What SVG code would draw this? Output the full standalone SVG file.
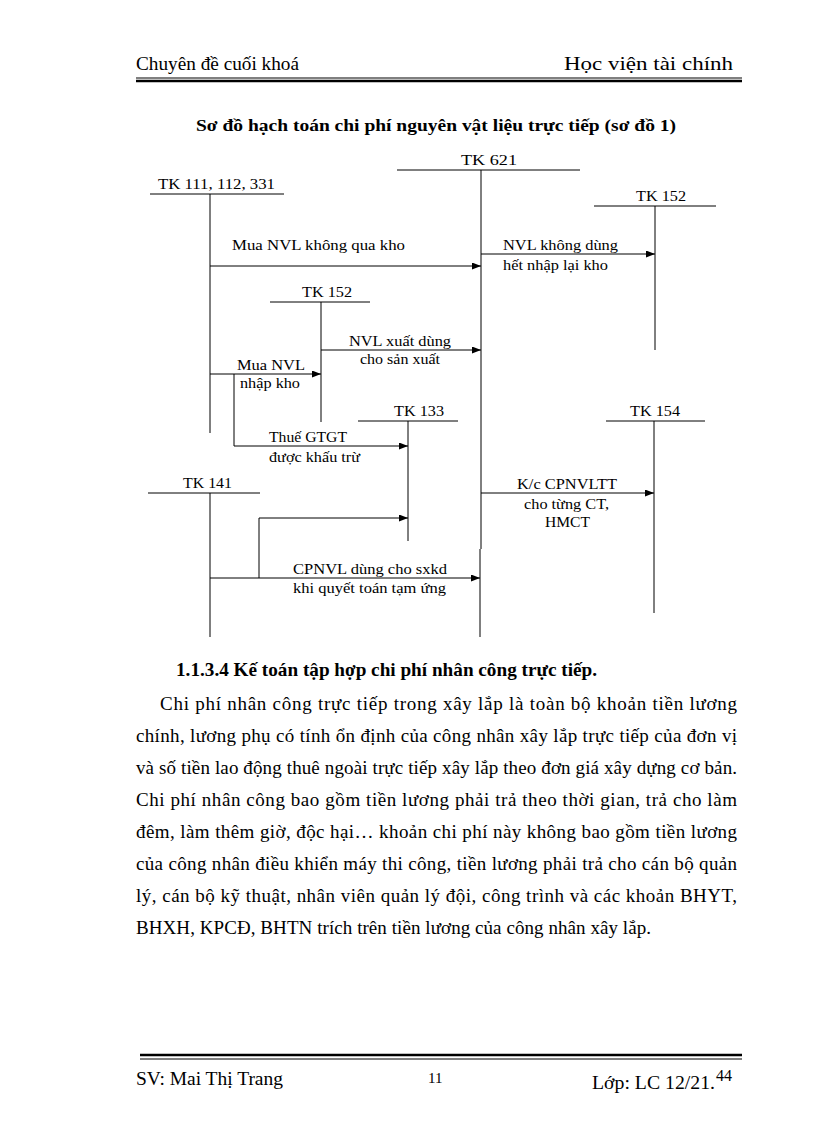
<svg xmlns="http://www.w3.org/2000/svg" width="816" height="1123" viewBox="0 0 816 1123">
<defs>
<marker id="arr" markerWidth="9" markerHeight="7" refX="9" refY="3.5" orient="auto" markerUnits="userSpaceOnUse">
<path d="M0,0 L9,3.5 L0,7 Z" fill="#000"/>
</marker>
<style>
.t{font-family:"Liberation Serif","DejaVu Serif",serif;fill:#000}
.h{font-size:19px}
.b{font-weight:bold}
.d{font-size:15px}
.ln{stroke:#000;stroke-width:1;fill:none}
.ar{stroke:#000;stroke-width:1;fill:none;marker-end:url(#arr)}
</style>
</defs>
<rect width="816" height="1123" fill="#fff"/>

<g id="header">
<text class="t h" x="136" y="70" textLength="163" lengthAdjust="spacingAndGlyphs">Chuyên đề cuối khoá</text>
<text class="t h" x="564" y="70" textLength="169" lengthAdjust="spacingAndGlyphs">Học viện tài chính</text>
<line x1="136" y1="78" x2="742" y2="78" stroke="#000" stroke-width="1"/>
<line x1="136" y1="81" x2="742" y2="81" stroke="#000" stroke-width="2.5"/>
</g>

<text class="t b" x="196" y="131" font-size="17" textLength="480" lengthAdjust="spacingAndGlyphs">Sơ đồ hạch toán chi phí nguyên vật liệu trực tiếp (sơ đồ 1)</text>

<g id="tk621">
<text class="t d" x="461" y="165" textLength="56" lengthAdjust="spacingAndGlyphs">TK 621</text>
<line class="ln" x1="397" y1="170" x2="580" y2="170"/>
<line class="ln" x1="481" y1="170" x2="481" y2="549"/>
<line class="ln" x1="480" y1="549" x2="480" y2="637"/>
</g>
<g id="tk111">
<text class="t d" x="158" y="189" textLength="117" lengthAdjust="spacingAndGlyphs">TK 111, 112, 331</text>
<line class="ln" x1="150" y1="194" x2="284" y2="194"/>
<line class="ln" x1="210" y1="194" x2="210" y2="433"/>
</g>
<g id="tk152r">
<text class="t d" x="636" y="201" textLength="50" lengthAdjust="spacingAndGlyphs">TK 152</text>
<line class="ln" x1="594" y1="206" x2="716" y2="206"/>
<line class="ln" x1="655" y1="206" x2="655" y2="350"/>
</g>
<g id="tk152m">
<text class="t d" x="302" y="297" textLength="50" lengthAdjust="spacingAndGlyphs">TK 152</text>
<line class="ln" x1="270" y1="302" x2="370" y2="302"/>
<line class="ln" x1="321" y1="302" x2="321" y2="422"/>
</g>
<g id="tk133">
<text class="t d" x="394" y="416" textLength="50" lengthAdjust="spacingAndGlyphs">TK 133</text>
<line class="ln" x1="358" y1="421" x2="458" y2="421"/>
<line class="ln" x1="408" y1="421" x2="408" y2="541"/>
</g>
<g id="tk154">
<text class="t d" x="630" y="416" textLength="50" lengthAdjust="spacingAndGlyphs">TK 154</text>
<line class="ln" x1="606" y1="421" x2="705" y2="421"/>
<line class="ln" x1="654" y1="421" x2="654" y2="613"/>
</g>
<g id="tk141">
<text class="t d" x="183" y="488" textLength="49" lengthAdjust="spacingAndGlyphs">TK 141</text>
<line class="ln" x1="148" y1="493" x2="260" y2="493"/>
<line class="ln" x1="210" y1="493" x2="210" y2="637"/>
</g>

<g id="connectors">
<line class="ar" x1="210" y1="266" x2="481" y2="266"/>
<text class="t d" x="232" y="250" textLength="173" lengthAdjust="spacingAndGlyphs">Mua NVL  không qua kho</text>

<line class="ar" x1="481" y1="254" x2="655" y2="254"/>
<text class="t d" x="503" y="250" textLength="115" lengthAdjust="spacingAndGlyphs">NVL không dùng</text>
<text class="t d" x="503" y="270" textLength="105" lengthAdjust="spacingAndGlyphs">hết nhập lại kho</text>

<line class="ar" x1="321" y1="350" x2="481" y2="350"/>
<text class="t d" x="349" y="346" textLength="102" lengthAdjust="spacingAndGlyphs">NVL xuất dùng</text>
<text class="t d" x="360" y="364" textLength="80" lengthAdjust="spacingAndGlyphs">cho sản xuất</text>

<line class="ar" x1="210" y1="374" x2="321" y2="374"/>
<text class="t d" x="237" y="370" textLength="68" lengthAdjust="spacingAndGlyphs">Mua NVL</text>
<text class="t d" x="240" y="388" textLength="60" lengthAdjust="spacingAndGlyphs">nhập kho</text>

<polyline class="ar" points="234,374 234,446 408,446"/>
<text class="t d" x="269" y="442" textLength="78" lengthAdjust="spacingAndGlyphs">Thuế GTGT</text>
<text class="t d" x="269" y="462" textLength="91" lengthAdjust="spacingAndGlyphs">được khấu trừ</text>

<line class="ar" x1="481" y1="493" x2="654" y2="493"/>
<text class="t d" x="517" y="489" textLength="100" lengthAdjust="spacingAndGlyphs">K/c CPNVLTT</text>
<text class="t d" x="524" y="509" textLength="85" lengthAdjust="spacingAndGlyphs">cho từng CT,</text>
<text class="t d" x="545" y="527" textLength="45" lengthAdjust="spacingAndGlyphs">HMCT</text>

<line class="ar" x1="210" y1="578" x2="480" y2="578"/>
<text class="t d" x="293" y="574" textLength="154" lengthAdjust="spacingAndGlyphs">CPNVL dùng cho sxkd</text>
<text class="t d" x="293" y="593" textLength="153" lengthAdjust="spacingAndGlyphs">khi quyết toán tạm ứng</text>

<polyline class="ar" points="259,578 259,518 408,518"/>
</g>

<g id="body">
<text class="t h b" x="176" y="676" textLength="421" lengthAdjust="spacingAndGlyphs">1.1.3.4 Kế toán tập hợp chi phí nhân công trực tiếp.</text>
<text class="t h" x="160" y="710" textLength="577" lengthAdjust="spacing">Chi phí nhân công trực tiếp trong xây lắp là toàn bộ khoản tiền lương</text>
<text class="t h" x="136" y="742" textLength="601" lengthAdjust="spacing">chính, lương phụ có tính ổn định của công nhân xây lắp trực tiếp của đơn vị</text>
<text class="t h" x="136" y="774" textLength="601" lengthAdjust="spacing">và số tiền lao động thuê ngoài trực tiếp xây lắp theo đơn giá xây dựng cơ bản.</text>
<text class="t h" x="136" y="806" textLength="601" lengthAdjust="spacing">Chi phí nhân công bao gồm tiền lương phải trả theo thời gian, trả cho làm</text>
<text class="t h" x="136" y="838" textLength="601" lengthAdjust="spacing">đêm, làm thêm giờ, độc hại… khoản chi phí này không bao gồm tiền lương</text>
<text class="t h" x="136" y="870" textLength="601" lengthAdjust="spacing">của công nhân điều khiển máy thi công, tiền lương phải trả cho cán bộ quản</text>
<text class="t h" x="136" y="902" textLength="601" lengthAdjust="spacing">lý, cán bộ kỹ thuật, nhân viên quản lý đội, công trình và các khoản BHYT,</text>
<text class="t h" x="136" y="934" textLength="515" lengthAdjust="spacing">BHXH, KPCĐ, BHTN trích trên tiền lương của công nhân xây lắp.</text>
</g>

<g id="footer">
<line x1="140" y1="1055" x2="742" y2="1055" stroke="#000" stroke-width="2.5"/>
<line x1="140" y1="1059" x2="742" y2="1059" stroke="#000" stroke-width="1"/>
<text class="t h" x="136" y="1085" textLength="147" lengthAdjust="spacingAndGlyphs">SV: Mai Thị Trang</text>
<text class="t" x="428" y="1083" font-size="15">11</text>
<text class="t h" x="592" y="1089" textLength="123" lengthAdjust="spacingAndGlyphs">Lớp: LC 12/21.</text>
<text class="t" x="716" y="1081" font-size="16">44</text>
</g>
</svg>
